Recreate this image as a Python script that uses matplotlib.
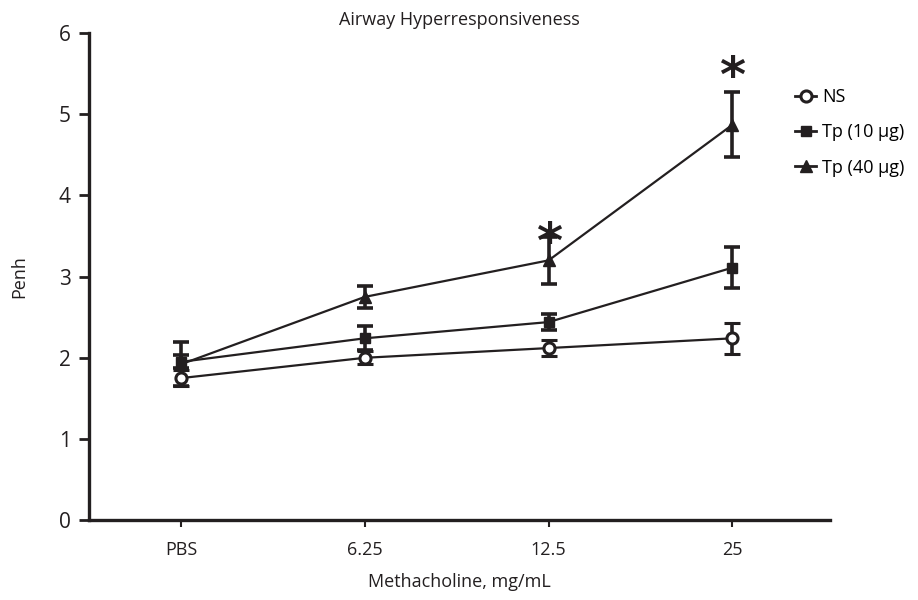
import matplotlib.pyplot as plt
from matplotlib.lines import Line2D
import numpy as np

plt.rcParams['font.family'] = ['Open Sans', 'DejaVu Sans']

doses = ['PBS', '6.25', '12.5', '25']
ns_mean = [1.75, 2.00, 2.12, 2.24]
ns_err = [0.10, 0.08, 0.10, 0.19]
tp10_mean = [1.95, 2.24, 2.44, 3.11]
tp10_err = [0.08, 0.15, 0.10, 0.25]
tp40_mean = [1.92, 2.75, 3.20, 4.87]
tp40_err = [0.27, 0.14, 0.29, 0.40]
star_pos = [2, 3]
star_y = [3.40, 5.45]

ink = '#231f20'
fig = plt.figure(figsize=(9.18, 6.0), dpi=100)
ax = fig.add_axes([0.097, 0.133, 0.807, 0.812])

x = np.arange(len(doses))
common = dict(color=ink, lw=1.6, elinewidth=2.6, capsize=6, capthick=2.6, zorder=3)
ax.errorbar(x, ns_mean, yerr=ns_err, marker='o', ms=8, mfc='white', mew=2.2, **common)
ax.errorbar(x, tp10_mean, yerr=tp10_err, marker='s', ms=7, **common)
ax.errorbar(x, tp40_mean, yerr=tp40_err, marker='^', ms=8, **common)

for xs, ys in zip(star_pos, star_y):
    ax.text(xs, ys, '*', ha='center', va='center', fontsize=36, fontweight='bold',
            family='DejaVu Sans', color=ink)

ax.set_xlim(-0.5, 3.53)
ax.set_ylim(0, 6)
ax.set_xticks(x)
ax.set_xticklabels(doses)
ax.set_yticks(range(7))
for s in ['top', 'right']:
    ax.spines[s].set_visible(False)
for s in ['left', 'bottom']:
    ax.spines[s].set_linewidth(2.4)
    ax.spines[s].set_color(ink)
ax.tick_params(axis='y', length=7, width=2, labelsize=15, color=ink, labelcolor=ink, pad=6)
ax.tick_params(axis='x', length=5, width=1.5, labelsize=13, color=ink, labelcolor=ink, pad=10)

ax.set_xlabel('Methacholine, mg/mL', fontsize=13, color=ink, labelpad=10)
ax.set_ylabel('Penh', fontsize=13, color=ink, labelpad=22)
ax.set_title('Airway Hyperresponsiveness', fontsize=13, color=ink, pad=6)

handles = [
    Line2D([], [], color=ink, lw=2, marker='o', ms=8, mfc='white', mew=2.2),
    Line2D([], [], color=ink, lw=2, marker='s', ms=7),
    Line2D([], [], color=ink, lw=2, marker='^', ms=8),
]
labels = ['NS', 'Tp (10 µg)', 'Tp (40 µg)']
fig.legend(handles, labels, loc='upper left', bbox_to_anchor=(0.848, 0.88), frameon=False,
           fontsize=13, handlelength=1.2, handletextpad=0.3, labelspacing=0.95)

fig.savefig('out.png', dpi=100)
